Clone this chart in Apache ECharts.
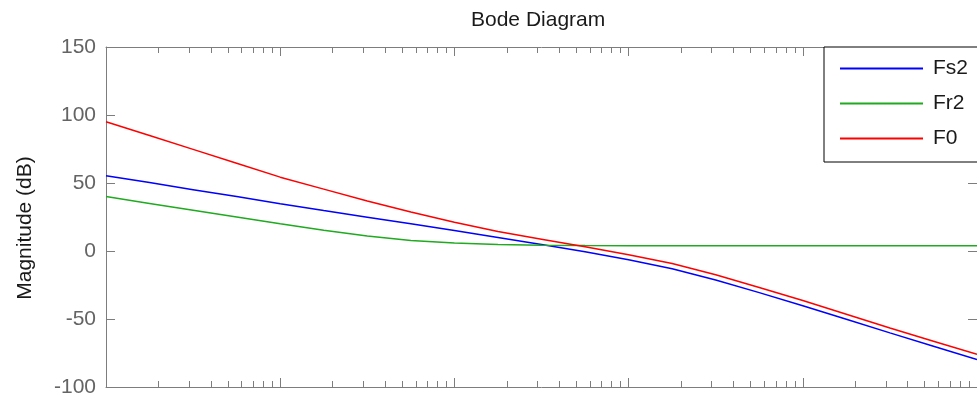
<!DOCTYPE html>
<html>
<head>
<meta charset="utf-8">
<script src="https://cdn.jsdelivr.net/npm/echarts@6/dist/echarts.min.js"></script>
<style>
html,body{margin:0;padding:0;background:#fff;}
#chart{width:977px;height:398px;}
</style>
</head>
<body>
<div id="chart"></div>
<script>
// Frequency samples (log axis, 5 decades)
var freq = [1, 1.778, 3.162, 5.623, 10, 17.78, 31.62, 56.23, 100, 177.8, 316.2, 562.3,
            1000, 1778, 3162, 5623, 10000, 17783, 31623, 56234, 100000];
// Magnitudes in dB
var fs2 = [55.4, 50.3, 45.1, 40.0, 34.8, 29.8, 24.9, 20.0, 15.0, 10.0, 4.7, -0.6,
           -6.5, -13.0, -21.3, -30.6, -40.2, -50.2, -60.2, -70.0, -79.8];
var fr2 = [40.0, 35.0, 30.0, 25.0, 20.0, 15.2, 11.0, 7.8, 5.8, 4.7, 4.2, 4.0,
           3.9, 3.8, 3.8, 3.8, 3.8, 3.8, 3.8, 3.8, 3.8];
var f0  = [95.0, 84.9, 74.7, 64.5, 54.3, 45.5, 36.8, 28.7, 21.2, 14.4, 8.7, 3.1,
           -2.8, -9.2, -17.5, -26.8, -36.4, -46.5, -56.6, -66.3, -76.0];
var seriesNames = ['Fs2', 'Fr2', 'F0'];
var yTicks = [-100, -50, 0, 50, 100, 150];

function pairs(v) { return freq.map(function (f, i) { return [f, v[i]]; }); }

// minor tick positions in decade space (log10 of 2..9 within each decade)
var minorTicks = [];
for (var n = 0; n < 5; n++) {
  for (var k = 2; k <= 9; k++) minorTicks.push(n + Math.log10(k));
}

var axisGray = '#7d7d7d';
var labelGray = '#646464';
var FONT = 'Liberation Sans';

var chart = echarts.init(document.getElementById('chart'), null, {renderer: 'canvas'});

var gridRect = {left: 106, top: 47, width: 875, height: 340};

function xLine(show) {
  return {show: show, onZero: false, lineStyle: {color: axisGray, width: 1}};
}

chart.setOption({
  animation: false,
  backgroundColor: '#ffffff',
  title: {
    text: 'Bode Diagram',
    left: 471, top: 10, padding: 0,
    textStyle: {fontFamily: FONT, fontSize: 21, fontWeight: 'normal', color: '#1a1a1a'}
  },
  legend: {
    orient: 'vertical',
    left: 824, top: 47,
    padding: [11, 40, 13, 16],
    itemGap: 14,
    itemWidth: 83,
    itemHeight: 2,
    icon: 'rect',
    borderColor: '#000',
    borderWidth: 1,
    backgroundColor: '#fff',
    data: seriesNames,
    textStyle: {fontFamily: FONT, fontSize: 21, color: '#1a1a1a', padding: [0, 0, 0, 5]}
  },
  grid: [
    Object.assign({containLabel: false}, gridRect),
    Object.assign({containLabel: false}, gridRect)
  ],
  xAxis: [
    {type: 'log', logBase: 10, gridIndex: 0, position: 'bottom', min: 1, max: 100000,
     axisLine: xLine(true),
     axisTick: {show: true, inside: true, length: 9, lineStyle: {color: axisGray}},
     axisLabel: {show: false}, splitLine: {show: false}},
    {type: 'log', logBase: 10, gridIndex: 0, position: 'top', min: 1, max: 100000,
     axisLine: xLine(true),
     axisTick: {show: true, inside: true, length: 9, lineStyle: {color: axisGray}},
     axisLabel: {show: false}, splitLine: {show: false}},
    {type: 'value', gridIndex: 1, position: 'bottom', min: 0, max: 5,
     axisLine: xLine(false),
     axisTick: {show: true, inside: true, length: 6, customValues: minorTicks, lineStyle: {color: axisGray}},
     axisLabel: {show: false}, splitLine: {show: false}},
    {type: 'value', gridIndex: 1, position: 'top', min: 0, max: 5,
     axisLine: xLine(false),
     axisTick: {show: true, inside: true, length: 6, customValues: minorTicks, lineStyle: {color: axisGray}},
     axisLabel: {show: false}, splitLine: {show: false}}
  ],
  yAxis: [
    {type: 'value', gridIndex: 0, position: 'left', min: -100, max: 150, interval: 50,
     axisLine: {show: true, onZero: false, lineStyle: {color: axisGray, width: 1}},
     axisTick: {show: true, inside: true, length: 9, lineStyle: {color: axisGray}},
     axisLabel: {show: true, margin: 10, color: labelGray, fontFamily: FONT, fontSize: 21,
                 customValues: yTicks},
     splitLine: {show: false}},
    {type: 'value', gridIndex: 0, position: 'right', min: -100, max: 150, interval: 50,
     axisLine: {show: true, onZero: false, lineStyle: {color: axisGray, width: 1}},
     axisTick: {show: true, inside: true, length: 9, lineStyle: {color: axisGray}},
     axisLabel: {show: false}, splitLine: {show: false}},
    {type: 'value', gridIndex: 1, show: false, min: -100, max: 150,
     axisLine: {onZero: false}}
  ],
  graphic: [
    {type: 'text', x: 25, y: 228, rotation: Math.PI / 2,
     style: {text: 'Magnitude (dB)', fontFamily: FONT, fontSize: 21, fill: '#1a1a1a',
             textAlign: 'center', textVerticalAlign: 'middle'}}
  ],
  series: [
    {name: seriesNames[0], type: 'line', xAxisIndex: 0, yAxisIndex: 0, data: pairs(fs2),
     showSymbol: false, symbol: 'none', lineStyle: {color: '#0000ff', width: 1.5}, itemStyle: {color: '#0000ff'}},
    {name: seriesNames[1], type: 'line', xAxisIndex: 0, yAxisIndex: 0, data: pairs(fr2),
     showSymbol: false, symbol: 'none', lineStyle: {color: '#1faa1f', width: 1.5}, itemStyle: {color: '#1faa1f'}},
    {name: seriesNames[2], type: 'line', xAxisIndex: 0, yAxisIndex: 0, data: pairs(f0),
     showSymbol: false, symbol: 'none', lineStyle: {color: '#ff0000', width: 1.5}, itemStyle: {color: '#ff0000'}}
  ]
});
</script>
</body>
</html>
